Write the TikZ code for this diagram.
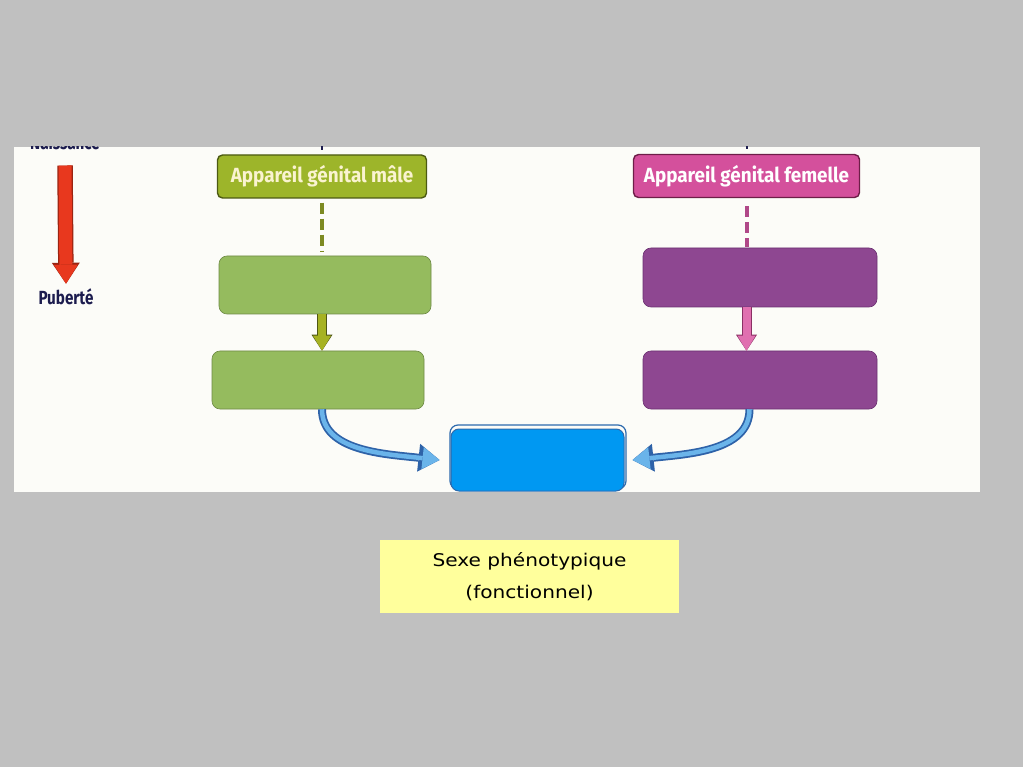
\documentclass[tikz,border=0pt]{standalone}
\usepackage{fontspec}
\usetikzlibrary{arrows.meta,positioning,calc}
\newfontfamily\labelfont[FakeStretch=0.92]{Fira Sans}
\newfontfamily\timefont[FakeStretch=0.8]{Fira Sans}
\newfontfamily\captionfont[FakeStretch=1.15]{DejaVu Sans}
\definecolor{fondgris}{HTML}{C0C0C0}
\definecolor{panneau}{HTML}{FCFCF8}
\definecolor{vertlabel}{HTML}{9DB52A}
\definecolor{vertbord}{HTML}{4C5A12}
\definecolor{creme}{HTML}{FAF3D0}
\definecolor{roselabel}{HTML}{D4509C}
\definecolor{rosebord}{HTML}{6E1E48}
\definecolor{vertboite}{HTML}{95BB5E}
\definecolor{vertbord2}{HTML}{6E8A45}
\definecolor{violetboite}{HTML}{8E4791}
\definecolor{violetbord}{HTML}{6A3070}
\definecolor{bleuboite}{HTML}{0098F2}
\definecolor{bleubord}{HTML}{2C6AAE}
\definecolor{bleufleche}{HTML}{2E62A8}
\definecolor{bleuclair}{HTML}{6AB4EA}
\definecolor{jaunelegende}{HTML}{FFFF9C}
\definecolor{rouge}{HTML}{E8381E}
\definecolor{rougebord}{HTML}{9A2412}
\definecolor{marine}{HTML}{1C1C4E}
\definecolor{olive}{HTML}{A6B222}
\definecolor{olivebord}{HTML}{4E5614}
\definecolor{olivetiret}{HTML}{7D8A22}
\definecolor{rose}{HTML}{E070B0}
\definecolor{rosebord2}{HTML}{8A3064}
\definecolor{rosetiret}{HTML}{B04888}
\tikzset{
	etiquette/.style={draw, line width=1.4pt, rounded corners=5pt, minimum height=43pt, inner sep=0pt, text=white, font=\labelfont\bfseries\fontsize{20.5}{24}\selectfont},
	boite/.style={draw, line width=0.6pt, rounded corners=8pt, minimum height=58pt, inner sep=0pt},
	temps/.style={inner sep=0pt, text=marine, font=\timefont\bfseries\fontsize{19}{22}\selectfont},
	legende/.style={fill=jaunelegende, minimum width=299pt, minimum height=73pt, inner sep=0pt, align=center, font=\captionfont\fontsize{17.5}{32}\selectfont},
	tirets/.style={line width=4pt, dash pattern=on 11pt off 5pt},
	trait/.style={line width=1.5pt, draw=marine},
	flecherouge/.style={draw=rouge, line width=13pt, -{Triangle[length=19pt,width=24pt,line width=0pt]}, preaction={draw=rougebord, line width=15.5pt, -{Triangle[length=21pt,width=28pt,line width=0pt]}}},
	flecheverte/.style={draw=olive, line width=8pt, -{Triangle[length=15pt,width=18pt,line width=0pt]}, preaction={draw=olivebord, line width=10pt, -{Triangle[length=16pt,width=21pt,line width=0pt]}}},
	flecherose/.style={draw=rose, line width=8pt, -{Triangle[length=15pt,width=18pt,line width=0pt]}, preaction={draw=rosebord2, line width=10pt, -{Triangle[length=16pt,width=21pt,line width=0pt]}}},
	flechebleue/.style={draw=bleuclair, line width=4.5pt, -{Triangle[length=17pt,width=22pt,line width=0pt]}, preaction={draw=bleufleche, line width=8pt, -{Triangle[length=21pt,width=28pt,line width=0pt]}}}
}
\begin{document}
\begin{tikzpicture}[x=1pt,y=-1pt]
	\useasboundingbox (0,0) rectangle (1023,767);
	\fill[fondgris] (0,0) rectangle (1023,767);
	\fill[panneau] (14,147) rectangle (980,492);
	
	\begin{scope}
		\clip (14,147) rectangle (980,492);
		\node[temps, anchor=base] (naissance) at (65,150) {Naissance};
		\draw[trait] (322,140) -- (322,150);
		\draw[trait] (747,140) -- (747,149);
	\end{scope}
	
	\node[temps] (puberte) at (66,297) {Puberté};
	\draw[flecherouge] ([yshift=-15pt]naissance.south) -- ([yshift=5pt]puberte.north);
	
	\node[etiquette, fill=vertlabel, draw=vertbord, text=creme, minimum width=209pt] (male) at (322,176.5) {Appareil génital mâle};
	\node[etiquette, fill=roselabel, draw=rosebord, minimum width=226pt] (femelle) at (746.5,176) {Appareil génital femelle};
	
	\node[boite, fill=vertboite, draw=vertbord2, minimum width=212pt] (vert1) at (325,285) {};
	\node[boite, fill=vertboite, draw=vertbord2, minimum width=212pt] (vert2) at (318,380) {};
	\node[boite, fill=violetboite, draw=violetbord, minimum width=234pt, minimum height=59pt] (violet1) at (760,277.5) {};
	\node[boite, fill=violetboite, draw=violetbord, minimum width=234pt] (violet2) at (760,380) {};
	
	\draw[bleubord, line width=1.2pt, rounded corners=8pt] (450,425) rectangle (626,489);
	\node[boite, fill=bleuboite, draw=bleubord, line width=1pt, minimum width=173pt, minimum height=62pt] (resultat) at (537.5,460) {};
	
	\draw[tirets, draw=olivetiret, shorten <=4pt, shorten >=4pt] (male.south) -- (male.south |- vert1.north);
	\draw[tirets, draw=rosetiret, shorten <=8pt, shorten >=1pt] (femelle.south) -- (femelle.south |- violet1.north);
	\draw[flecheverte] (male.south |- vert1.south) -- (male.south |- vert2.north);
	\draw[flecherose] (femelle.south |- violet1.south) -- (femelle.south |- violet2.north);
	
	\draw[flechebleue] (male.south |- vert2.south) .. controls +(0,42) and +(-55,-6) .. ([xshift=-11pt]resultat.west);
	\draw[flechebleue] ([xshift=3pt]femelle.south |- violet2.south) .. controls +(0,42) and +(55,-6) .. ([xshift=8pt]resultat.east);
	
	\node[legende] (phenotype) at (529.5,576.5) {Sexe phénotypique\\(fonctionnel)};
\end{tikzpicture}
\end{document}
